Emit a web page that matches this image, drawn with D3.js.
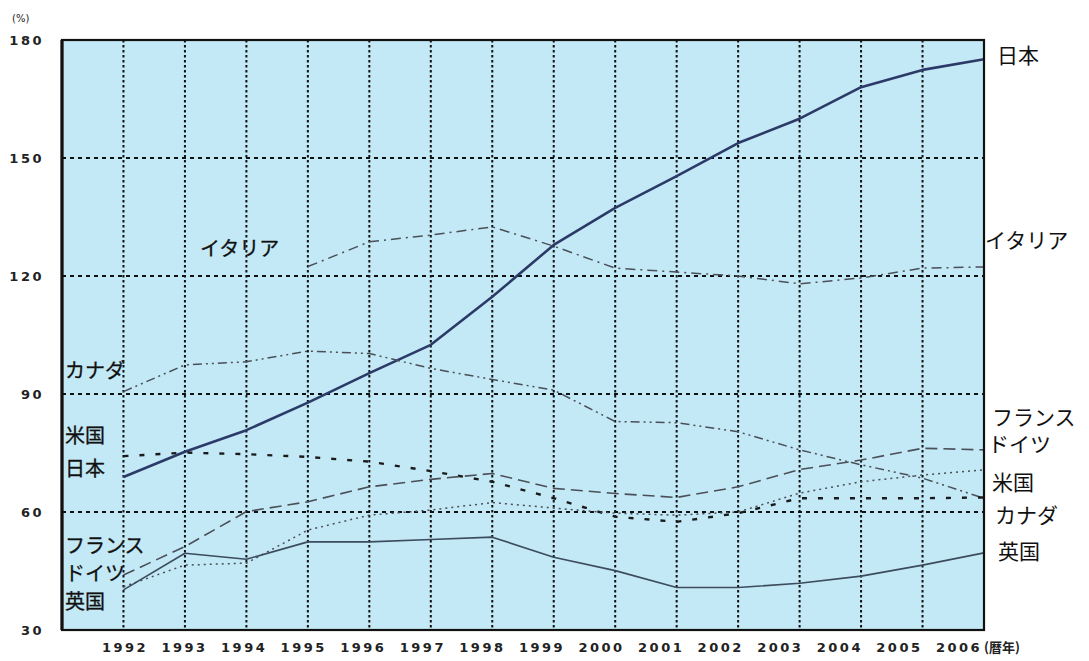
<!DOCTYPE html>
<html><head><meta charset="utf-8">
<script src="https://cdn.jsdelivr.net/npm/d3@7/dist/d3.min.js"></script>
<style>body{margin:0;background:#fff}svg{display:block}</style>
</head><body>
<svg id="c" width="1089" height="661"></svg>
<script>
const years = [1992,1993,1994,1995,1996,1997,1998,1999,2000,2001,2002,2003,2004,2005,2006];
const yTicks = [30,60,90,120,150,180];
const japan   = [68.9,75.3,80.8,87.8,95.3,102.5,114.7,127.9,137.3,145.4,153.8,160.0,168.0,172.4,175.1];
const italy   = [null,null,null,122.4,128.7,130.4,132.5,127.6,122.0,121.0,120.0,118.0,119.5,122.0,122.3];
const canada  = [90.6,97.4,98.2,100.9,100.3,96.5,93.7,91.0,83.0,82.7,80.4,75.8,72.0,68.6,63.5];
const usa     = [74.2,75.1,74.7,74.0,72.8,70.4,67.7,63.5,58.8,57.5,59.7,63.5,63.5,63.5,63.7];
const france  = [44.0,51.2,60.1,62.6,66.4,68.3,69.8,66.0,64.7,63.7,66.4,70.8,73.2,76.2,75.8];
const germany = [41.0,46.5,47.0,55.4,59.2,60.5,62.4,61.0,59.7,59.2,60.0,64.8,67.7,69.4,70.7];
const uk      = [40.2,49.5,48.0,52.4,52.4,53.0,53.6,48.5,45.1,40.8,40.8,41.9,43.7,46.5,49.6];
const seriesNames = ["日本","イタリア","カナダ","米国","フランス","ドイツ","英国"];

const svg = d3.select("#c");
const x = d3.scaleLinear().domain([1991, 2006]).range([62, 984]);
const y = d3.scaleLinear().domain([30, 180]).range([630, 40]);
const xLab = d3.scaleLinear().domain([1992, 2006]).range([125, 959]);

// background
svg.append("rect").attr("x", x(1991)).attr("y", y(180))
  .attr("width", x(2006) - x(1991)).attr("height", y(30) - y(180))
  .attr("fill", "#c3e9f6");

// grid
svg.append("g").selectAll("line").data(years.slice(0, -1)).join("line")
  .attr("x1", d => x(d)).attr("x2", d => x(d)).attr("y1", y(180)).attr("y2", y(30))
  .attr("stroke", "#111").attr("stroke-width", 2).attr("stroke-dasharray", "2.5,2.5");
svg.append("g").selectAll("line").data(yTicks.slice(1, -1)).join("line")
  .attr("x1", x(1991)).attr("x2", x(2006)).attr("y1", d => y(d)).attr("y2", d => y(d))
  .attr("stroke", "#111").attr("stroke-width", 2).attr("stroke-dasharray", "4,4");

// series
const styles = [
  {data: japan,   color: "#2c3a68", width: 2.6, dash: null},
  {data: italy,   color: "#4a4f58", width: 1.5, dash: "10,5,2,5"},
  {data: canada,  color: "#4a4f58", width: 1.5, dash: "9,4,2,4,2,4"},
  {data: usa,     color: "#1a1a1a", width: 2.4, dash: "5,11"},
  {data: france,  color: "#4a4f58", width: 1.6, dash: "12,6"},
  {data: germany, color: "#4a4f58", width: 1.5, dash: "2,4"},
  {data: uk,      color: "#3c4c5c", width: 1.6, dash: null}
];
const line = d3.line().defined(d => d[1] != null).x(d => x(d[0])).y(d => y(d[1]));
styles.forEach(s => {
  svg.append("path").datum(years.map((yr, i) => [yr, s.data[i]]))
    .attr("d", line).attr("fill", "none")
    .attr("stroke", s.color).attr("stroke-width", s.width)
    .attr("stroke-dasharray", s.dash)
    .attr("stroke-linejoin", "round");
});

// border
svg.append("rect").attr("x", x(1991)).attr("y", y(180))
  .attr("width", x(2006) - x(1991)).attr("height", y(30) - y(180))
  .attr("fill", "none").attr("stroke", "#111").attr("stroke-width", 2.2);
svg.append("line").attr("x1", x(1991)).attr("x2", x(1991)).attr("y1", y(180)).attr("y2", y(30))
  .attr("stroke", "#111").attr("stroke-width", 3.2);

// y tick labels
svg.append("g").selectAll("text").data(yTicks).join("text")
  .attr("x", 44).attr("y", d => y(d)).attr("dy", "0.36em")
  .attr("text-anchor", "end")
  .attr("font-family", "DejaVu Sans").attr("font-weight", "bold").attr("font-size", 13)
  .attr("letter-spacing", "2.5px").attr("fill", "#222")
  .text(d => d);
svg.append("text").attr("x", 12).attr("y", 22)
  .attr("font-family", "DejaVu Sans").attr("font-size", 10).attr("fill", "#222")
  .text("(%)");

// x tick labels
svg.append("g").selectAll("text").data(years).join("text")
  .attr("x", d => xLab(d)).attr("y", 652)
  .attr("text-anchor", "middle")
  .attr("font-family", "DejaVu Sans").attr("font-weight", "bold").attr("font-size", 13)
  .attr("letter-spacing", "2.5px").attr("fill", "#222")
  .text(d => d);
svg.append("text").attr("x", xLab(2006) + 25).attr("y", 652)
  .attr("font-family", "Noto Sans CJK JP").attr("font-weight", "bold").attr("font-size", 13)
  .attr("fill", "#222").text("(暦年)");

// series labels
const leftLabels  = [[0,469],[1,249],[2,371],[3,436],[4,546],[5,574],[6,602]];
const rightLabels = [[0,55],[1,240],[2,515],[3,482],[4,417],[5,444],[6,551]];
const lblX = {left: {1: 200}, right: {0: 997, 1: 985, 2: 995, 3: 992, 4: 992, 5: 988, 6: 998}};
svg.append("g").selectAll("text").data(leftLabels).join("text")
  .attr("x", d => lblX.left[d[0]] != null ? lblX.left[d[0]] : x(1991) + 3)
  .attr("y", d => d[1]).attr("dy", "0.36em")
  .attr("font-family", "Noto Sans CJK JP").attr("font-size", 20)
  .attr("fill", "#111").attr("stroke", "#111").attr("stroke-width", 0.3)
  .text(d => seriesNames[d[0]]);
svg.append("g").selectAll("text").data(rightLabels).join("text")
  .attr("x", d => lblX.right[d[0]])
  .attr("y", d => d[1]).attr("dy", "0.36em")
  .attr("font-family", "Noto Sans CJK JP").attr("font-size", 21)
  .attr("fill", "#111")
  .text(d => seriesNames[d[0]]);
</script>
</body></html>
